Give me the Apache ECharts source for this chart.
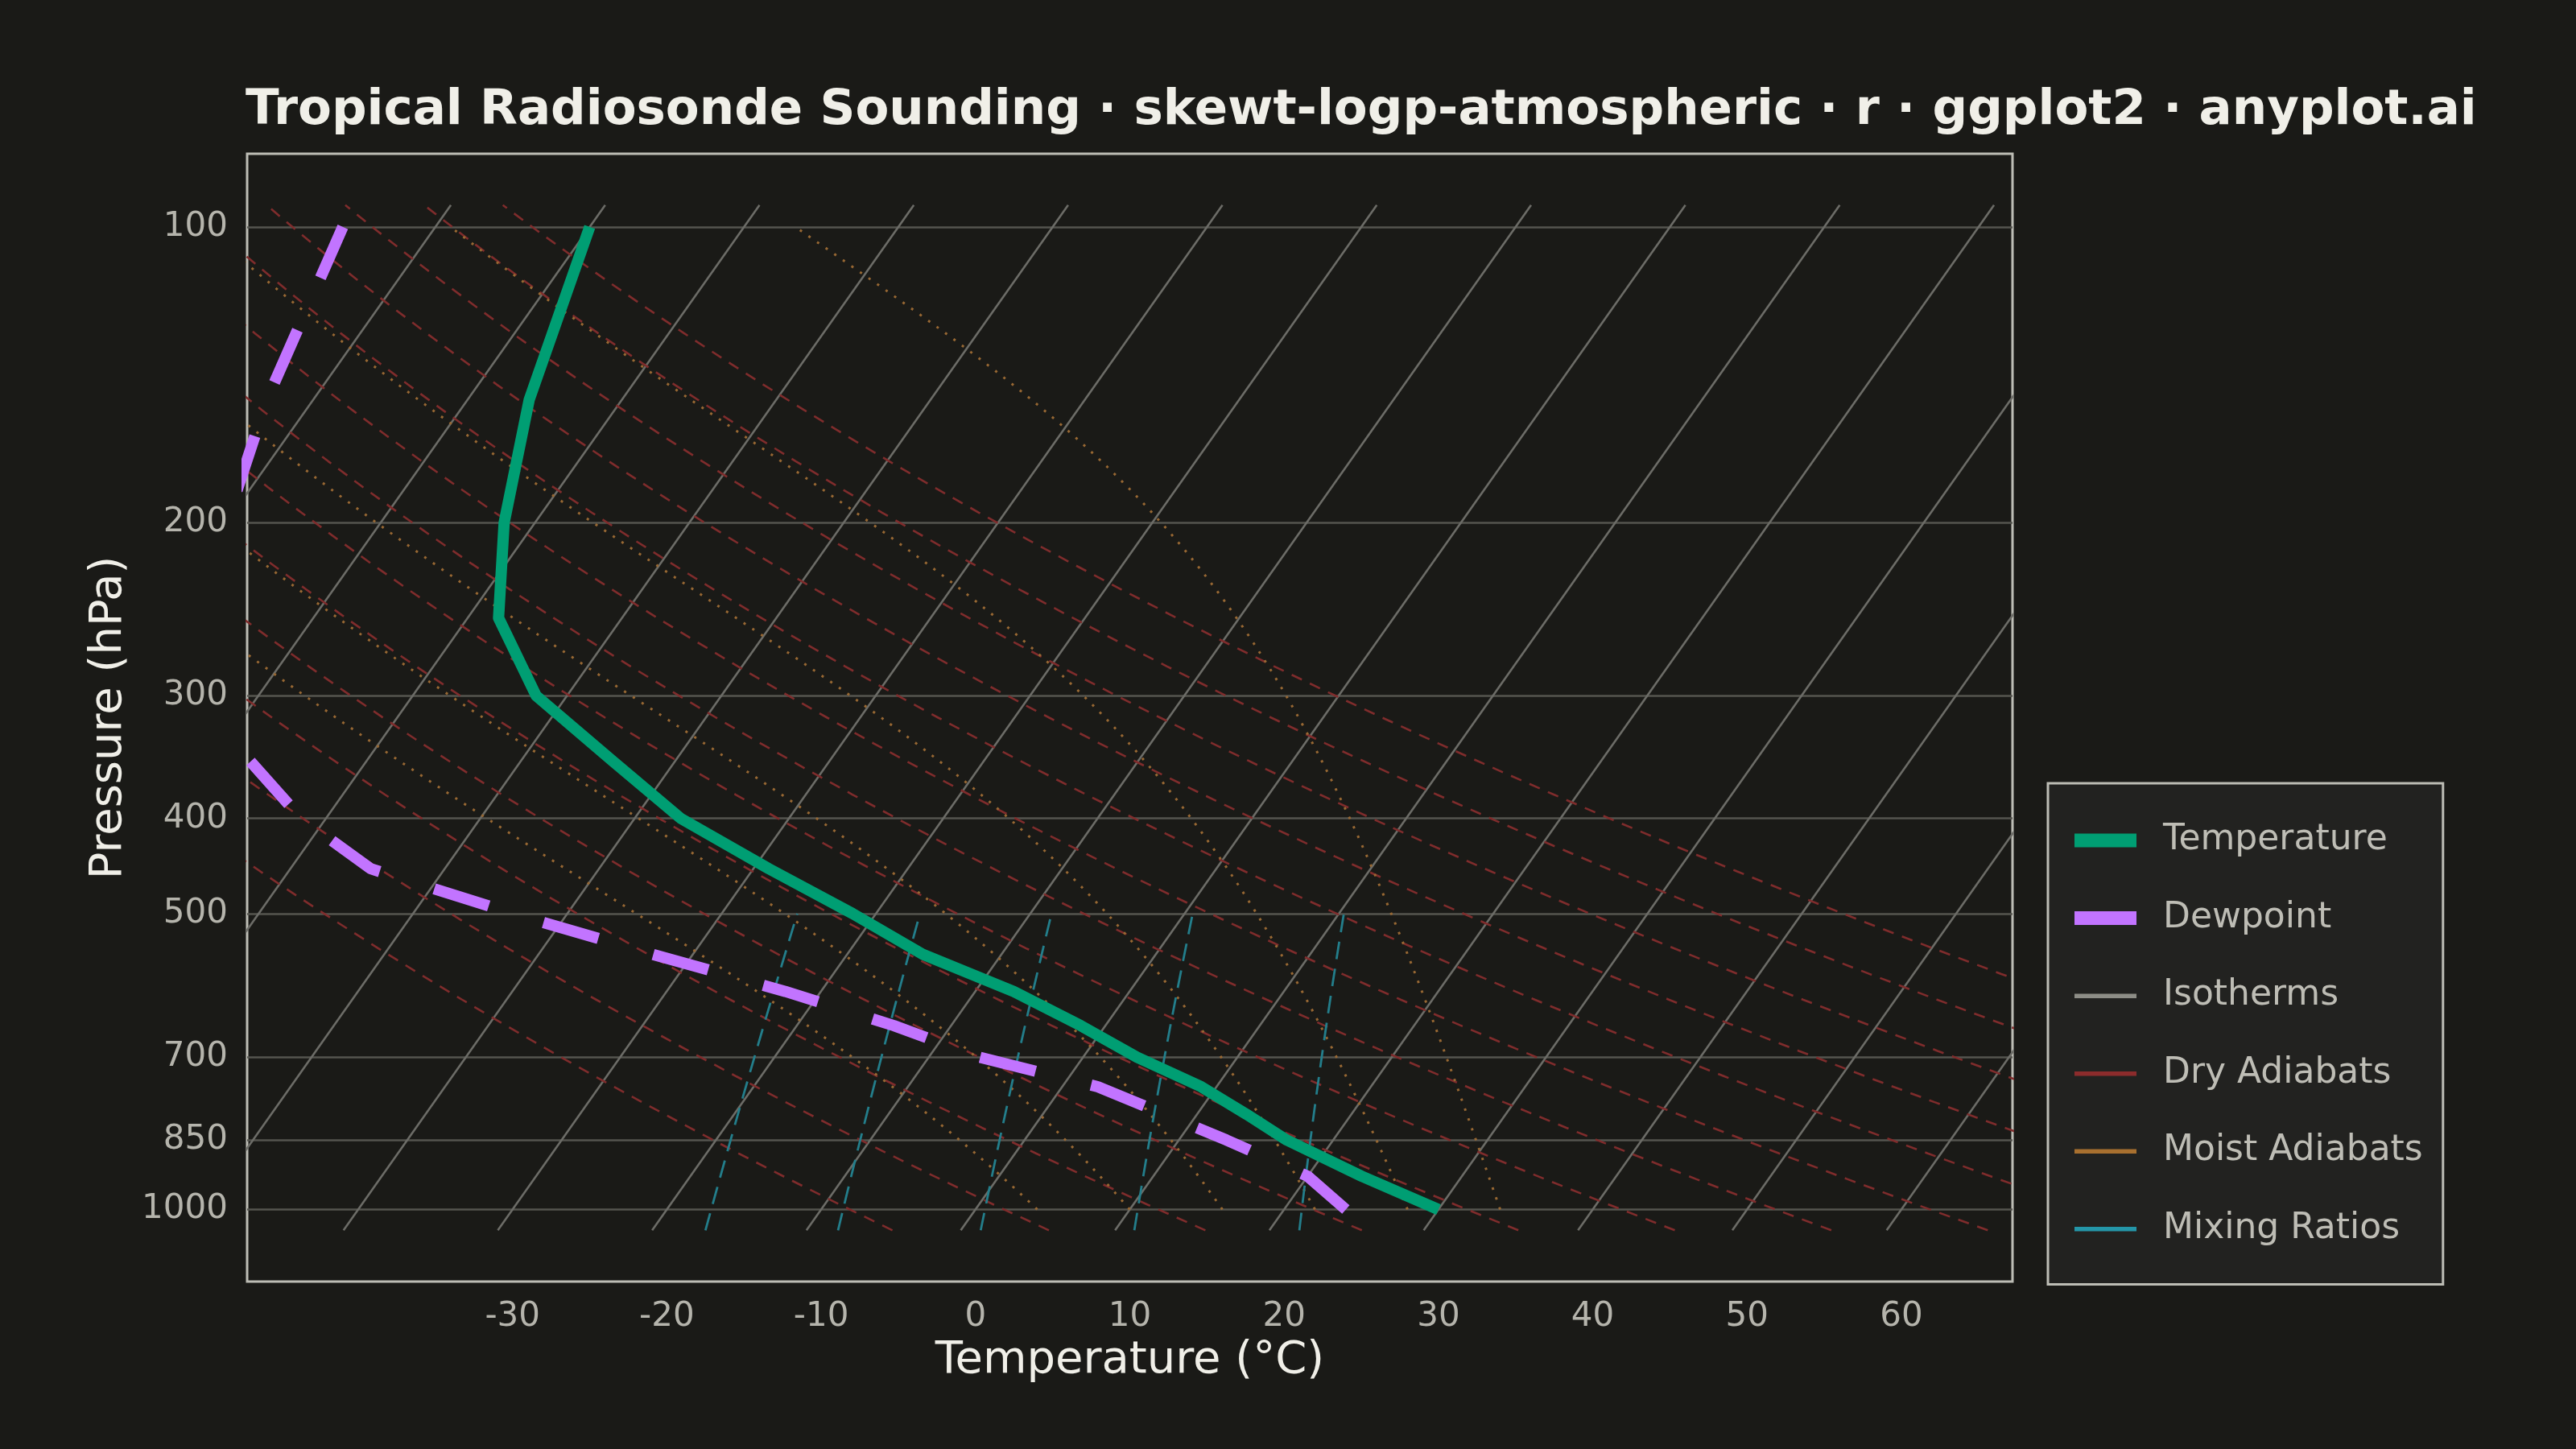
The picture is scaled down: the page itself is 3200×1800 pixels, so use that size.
<!DOCTYPE html>
<html>
<head>
<meta charset="utf-8">
<script src="https://cdn.jsdelivr.net/npm/echarts@6/dist/echarts.min.js"></script>
<style>
html,body{margin:0;padding:0;background:#1a1a17;}
#chart{width:3200px;height:1800px;}
</style>
</head>
<body>
<div id="chart"></div>
<script>
// sounding
var pressure    = [1000, 925, 850, 800, 750, 700, 650, 600, 550, 500, 450, 400, 350, 300, 250, 200, 150, 100];
var temperature = [30, 23.5, 17.0, 13.2, 9.0, 3.5, -1.6, -7.5, -15.1, -21.5, -29, -37, -44, -52, -58, -62, -66, -70];
var dewpoint    = [24, 20, 13.1, 7.9, 2.3, -6.7, -13.7, -22.3, -32.6, -43.5, -54.8, -61.6, -67.5, -73, -77, -80, -83, -86];

// reference lines of the diagram
var isotherms    = [-80, -70, -60, -50, -40, -30, -20, -10, 0, 10, 20, 30, 40, 50, 60];
var dryThetas    = [265, 275, 285, 295, 305, 315, 325, 335, 345, 355, 365, 375, 385];
var moistStarts  = [4, 10, 16, 22, 28, 34];
var mixingRatios = [1, 2, 4, 8, 16];

// ticks
var pressureTicks = [100, 200, 300, 400, 500, 700, 850, 1000];
var tempTicks     = [-30, -20, -10, 0, 10, 20, 30, 40, 50, 60];

var SKEW = 45;
var P_BOT = 1050, P_TOP = 95;
var FONT = 'DejaVu Sans';

function skewX(t, p) { return t + SKEW * Math.log10(1000 / p); }

var ySpan = Math.log10(P_BOT) - Math.log10(P_TOP);
var yMin = Math.log10(P_TOP) - 0.05 * ySpan;
var yMax = Math.log10(P_BOT) + 0.05 * ySpan;

function logSteps(p0, p1, n) {
  var out = [];
  for (var i = 0; i <= n; i++) {
    out.push(Math.pow(10, Math.log10(p0) + (Math.log10(p1) - Math.log10(p0)) * i / n));
  }
  return out;
}

function moistLapse(T, p) {
  var tc = T - 273.15;
  var es = 6.112 * Math.exp(17.67 * tc / (tc + 243.5));
  var rs = 0.622 * es / (p - es);
  var Lv = 2.501e6;
  return (287.04 * T + Lv * rs) / (1005.7 + Lv * Lv * rs * 0.622 / (287.04 * T * T)) / p;
}

function mixingTd(w, p) {
  var e = w * p / (622 + w);
  var a = Math.log(e / 6.112);
  return 243.5 * a / (17.67 - a);
}

var series = [];
function addLine(name, pts, style, z) {
  series.push({
    name: name, type: 'line', data: pts, symbol: 'none', silent: true,
    lineStyle: style, z: z, clip: true
  });
}

isotherms.forEach(function (t) {
  addLine('Isotherms', [P_BOT, P_TOP].map(function (p) { return [skewX(t, p), Math.log10(p)]; }),
    { color: '#6c6c67', width: 2.6 }, 1);
});

dryThetas.forEach(function (th) {
  var pts = logSteps(P_BOT, P_TOP, 40).map(function (p) {
    var t = th * Math.pow(p / 1000, 0.2857) - 273.15;
    return [skewX(t, p), Math.log10(p)];
  });
  addLine('Dry Adiabats', pts, { color: '#7f2c2c', width: 2.6, type: [14, 11] }, 2);
});

moistStarts.forEach(function (t0) {
  var T = t0 + 273.15, p = 1000, dp = -5;
  var pts = [[skewX(t0, p), Math.log10(p)]];
  while (p > 100 + 1e-6) {
    var k1 = moistLapse(T, p);
    var k2 = moistLapse(T + k1 * dp / 2, p + dp / 2);
    T += k2 * dp; p += dp;
    pts.push([skewX(T - 273.15, p), Math.log10(p)]);
  }
  addLine('Moist Adiabats', pts, { color: '#986833', width: 3, type: [3, 10] }, 3);
});

mixingRatios.forEach(function (w) {
  var pts = logSteps(P_BOT, 500, 12).map(function (p) {
    return [skewX(mixingTd(w, p), p), Math.log10(p)];
  });
  addLine('Mixing Ratios', pts, { color: '#237e8b', width: 2.8, type: [22, 12] }, 4);
});

addLine('Temperature', pressure.map(function (p, i) { return [skewX(temperature[i], p), Math.log10(p)]; }),
  { color: '#009e73', width: 14, join: 'round', cap: 'butt' }, 10);
addLine('Dewpoint', pressure.map(function (p, i) { return [skewX(dewpoint[i], p), Math.log10(p)]; }),
  { color: '#c274ff', width: 14, type: [71, 71], join: 'round', cap: 'butt' }, 11);

// legend keys: full 133x17 box, visible bar from x=28 to x=105
var thick = 'path://M0,0L0,0M28,0H105V17H28ZM133,17L133,17';
var thin = 'path://M0,0L0,0M28,6H105V11.5H28ZM133,17L133,17';
var legendItems = [
  ['Temperature', thick, '#009e73'],
  ['Dewpoint', thick, '#c274ff'],
  ['Isotherms', thin, '#8d8d86'],
  ['Dry Adiabats', thin, '#8c2c2c'],
  ['Moist Adiabats', thin, '#a8702f'],
  ['Mixing Ratios', thin, '#2496a8']
];

var chart = echarts.init(document.getElementById('chart'));
chart.setOption({
  backgroundColor: '#1a1a17',
  animation: false,
  title: {
    text: 'Tropical Radiosonde Sounding · skewt-logp-atmospheric · r · ggplot2 · anyplot.ai',
    left: 305, top: 108, padding: 0,
    textStyle: { color: '#f0efe8', fontSize: 61, fontWeight: 'bold', fontFamily: FONT, lineHeight: 61 }
  },
  grid: {
    left: 307, right: 700, top: 191, bottom: 208,
    show: true, borderColor: '#bdbdb5', borderWidth: 3, backgroundColor: 'transparent'
  },
  legend: {
    orient: 'vertical', left: 2544, top: 973,
    padding: [46, 25, 44, 5],
    itemWidth: 133, itemHeight: 17, itemGap: 46.5,
    backgroundColor: '#222220', borderColor: '#bdbdb5', borderWidth: 3,
    selectedMode: false,
    textStyle: { color: '#bebdb5', fontSize: 44, fontFamily: FONT, lineHeight: 50 },
    data: legendItems.map(function (d) {
      return { name: d[0], icon: d[1], itemStyle: { color: d[2], borderWidth: 0, opacity: 1 } };
    })
  },
  xAxis: {
    type: 'value', min: -47.2, max: 67.2,
    axisLine: { show: false },
    axisTick: { show: false, customValues: tempTicks },
    axisLabel: { customValues: tempTicks, fontSize: 42, color: '#b5b4ac', margin: 23, fontFamily: FONT, lineHeight: 42 },
    splitLine: { show: false },
    name: 'Temperature (°C)', nameLocation: 'middle', nameGap: 70,
    nameTextStyle: { color: '#f0efe8', fontSize: 56, fontFamily: FONT, lineHeight: 56 }
  },
  yAxis: {
    type: 'value', inverse: true, min: yMin, max: yMax,
    axisLine: { show: false },
    axisTick: { show: false, customValues: pressureTicks.map(Math.log10) },
    axisLabel: {
      customValues: pressureTicks.map(Math.log10),
      formatter: function (v) { return String(Math.round(Math.pow(10, v))); },
      fontSize: 42, color: '#b5b4ac', margin: 24, fontFamily: FONT
    },
    splitLine: { show: true, lineStyle: { color: '#55554f', width: 2.5 } },
    name: 'Pressure (hPa)', nameLocation: 'middle', nameGap: 144,
    nameTextStyle: { color: '#f0efe8', fontSize: 56, fontFamily: FONT, lineHeight: 56 }
  },
  series: series
});
</script>
</body>
</html>
